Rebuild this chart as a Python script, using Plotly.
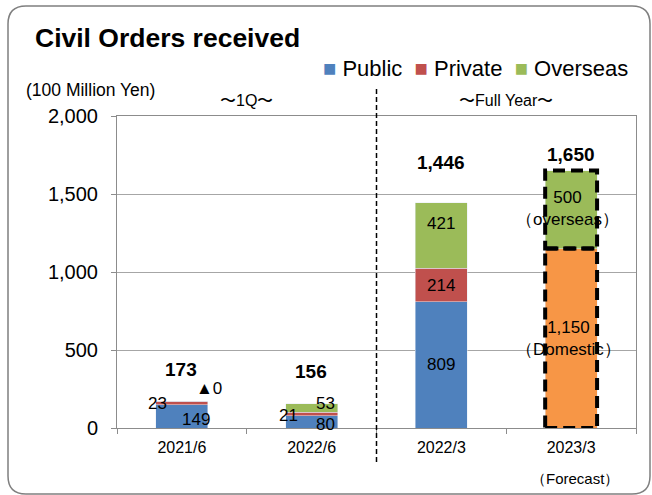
import plotly.graph_objects as go

categories = ["2021/6", "2022/6", "2022/3", "2023/3"]
public = [149, 80, 809, None]
private = [23, 21, 214, None]
domestic = [None, None, None, 1150]
overseas = [0, 53, 421, 500]
totals = [173, 156, 1446, 1650]
y_ticks = [0, 500, 1000, 1500, 2000]

C_PUB = "#4F81BD"
C_PRI = "#C0504D"
C_OVS = "#9BBB59"
C_DOM = "#F79646"
FONT = "Arial, Liberation Sans, sans-serif"
BAR_W = 0.4

W, H = 652, 495
ML, MR, MT, MB = 117, 16, 116, 67
PW, PH = W - ML - MR, H - MT - MB


def px(x):
    return (x - ML) / PW


def py(y):
    return (H - MB - y) / PH


fig = go.Figure()
fig.add_bar(x=categories, y=public, name="Public", marker_color=C_PUB, width=BAR_W)
fig.add_bar(x=categories, y=private, name="Private", marker_color=C_PRI, width=BAR_W)
fig.add_bar(x=categories, y=domestic, name="Domestic", marker_color=C_DOM, width=BAR_W)
fig.add_bar(x=categories, y=overseas, name="Overseas", marker_color=C_OVS, width=BAR_W)

ann = []
lab_font = dict(family=FONT, size=17, color="black")
tot_font = dict(family=FONT, size=19, color="black")


def lab(x, y, text, xs=0, ys=0, font=lab_font):
    ann.append(dict(x=x, y=y, xref="x", yref="y", text=text, showarrow=False,
                    xanchor="center", yanchor="middle",
                    xshift=xs, yshift=ys, font=font))


# 2021/6
lab(0, public[0] / 2, f"{public[0]}", xs=14, ys=-3)
lab(0, public[0] + private[0] / 2, f"{private[0]}", xs=-24, ys=-1)
lab(0, public[0] + private[0] + overseas[0], f"▲{overseas[0]}", xs=27, ys=13)
lab(0, totals[0], f"<b>{totals[0]:,}</b>", xs=-1, ys=32, font=tot_font)
# 2022/6
lab(1, public[1] / 2, f"{public[1]}", xs=14, ys=-3)
lab(1, public[1] + private[1] / 2, f"{private[1]}", xs=-23, ys=-2)
lab(1, public[1] + private[1] + overseas[1] / 2, f"{overseas[1]}", xs=14, ys=5)
lab(1, totals[1], f"<b>{totals[1]:,}</b>", xs=-1, ys=32, font=tot_font)
# 2022/3
lab(2, public[2] / 2, f"{public[2]}")
lab(2, public[2] + private[2] / 2, f"{private[2]}")
lab(2, public[2] + private[2] + overseas[2] / 2, f"{overseas[2]}", ys=12)
lab(2, totals[2], f"<b>{totals[2]:,}</b>", ys=40, font=tot_font)
# 2023/3 forecast
lab(3, domestic[3] / 2, f"{domestic[3]:,}<br>（Domestic）", xs=-3)
lab(3, domestic[3] + overseas[3] / 2, f"{overseas[3]}<br>（overseas）", xs=-4, ys=1)
lab(3, totals[3], f"<b>{totals[3]:,}</b>", ys=16, font=tot_font)


def note(x, y, text, size, xref="paper", xs=0, xanchor="center"):
    ann.append(dict(x=x, y=y, xref=xref, yref="paper", text=text, showarrow=False,
                    xanchor=xanchor, yanchor="middle", xshift=xs,
                    font=dict(family=FONT, size=size, color="black")))


note(px(90), py(90), "(100 Million Yen)", 17.5)
note(0.5, py(101), "〜1Q〜", 16, xref="x")
note(2.5, py(101), "〜Full Year〜", 16, xref="x")
note(3, py(478), "（Forecast）", 15, xref="x", xs=4)
legend_text = (f"<span style='color:{C_PUB}'>■</span> Public&nbsp; "
               f"<span style='color:{C_PRI}'>■</span> Private&nbsp; "
               f"<span style='color:{C_OVS}'>■</span> Overseas")
note(px(630), py(68), legend_text, 22, xanchor="right")

shapes = []
# dashed boxes for forecast segments
for y0, y1 in [(0, domestic[3]), (domestic[3], domestic[3] + overseas[3])]:
    shapes.append(dict(type="rect", xref="x", yref="y", x0=3 - BAR_W / 2, x1=3 + BAR_W / 2,
                       y0=y0, y1=y1, line=dict(color="black", width=4, dash="12px,6px")))
# separator between 1Q and full year
shapes.append(dict(type="line", xref="x", yref="paper", x0=1.5, x1=1.5, y0=py(462), y1=py(88),
                   line=dict(color="black", width=1.5, dash="5px,3px")))
# rounded outer frame
L, T, R, B, r = 8, 6, 650, 494, 18
path = (f"M {px(L)},{py(T + r)} Q {px(L)},{py(T)} {px(L + r)},{py(T)} "
        f"L {px(R - r)},{py(T)} Q {px(R)},{py(T)} {px(R)},{py(T + r)} "
        f"L {px(R)},{py(B - r)} Q {px(R)},{py(B)} {px(R - r)},{py(B)} "
        f"L {px(L + r)},{py(B)} Q {px(L)},{py(B)} {px(L)},{py(B - r)} Z")
shapes.append(dict(type="path", xref="paper", yref="paper", path=path,
                   line=dict(color="#7F7F7F", width=1.5), layer="below"))

fig.update_layout(
    width=W, height=H, barmode="stack", showlegend=False,
    margin=dict(l=ML, r=MR, t=MT, b=MB),
    paper_bgcolor="white", plot_bgcolor="white",
    font=dict(family=FONT, color="black"),
    title=dict(text="<b>Civil Orders received</b>", xref="container", yref="container",
               x=35 / W, xanchor="left", y=1 - 38 / H, yanchor="middle",
               font=dict(family=FONT, size=26.5, color="black")),
    annotations=ann, shapes=shapes,
)
fig.update_xaxes(type="category", categoryorder="array", categoryarray=categories,
                 showline=True, linecolor="#8C8C8C", linewidth=1, mirror=True,
                 ticks="outside", tickson="boundaries", ticklen=5, tickcolor="#8C8C8C",
                 ticklabelstandoff=5,
                 tickfont=dict(family=FONT, size=16, color="black"), showgrid=False)
fig.update_yaxes(range=[0, 2000], tickvals=y_ticks, tickformat=",",
                 showline=True, linecolor="#8C8C8C", linewidth=1, mirror=True,
                 ticks="outside", ticklen=5, tickcolor="#8C8C8C", ticklabelstandoff=9,
                 showgrid=True, gridcolor="#A6A6A6", gridwidth=1, zeroline=False,
                 tickfont=dict(family=FONT, size=20, color="black"))

fig.write_html("out.html", config={"displayModeBar": False},
               post_script="document.body.style.margin='0';")
